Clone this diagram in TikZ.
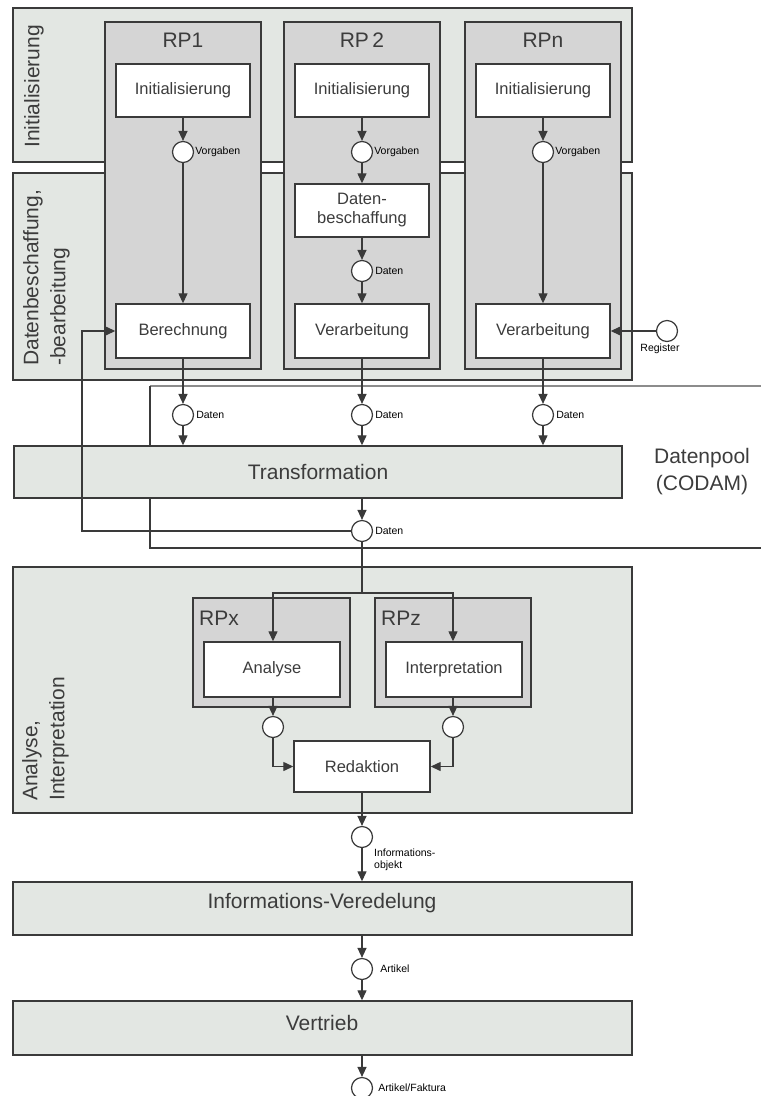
\documentclass[tikz,border=0pt]{standalone}
\usepackage{fontspec}
\setmainfont{Liberation Sans}
\usetikzlibrary{arrows.meta}
\definecolor{bandfill}{HTML}{E3E7E3}
\definecolor{rpfill}{HTML}{D5D5D5}
\definecolor{ln}{HTML}{3A3A3A}
\definecolor{txt}{HTML}{3C3C3C}
\tikzset{
 band/.style={draw=ln, line width=1.4pt, fill=bandfill, inner sep=0pt},
 rpbox/.style={draw=ln, line width=1.4pt, fill=rpfill, inner sep=0pt},
 wbox/.style={draw=ln, line width=1.4pt, fill=white, minimum width=134pt, minimum height=53pt, align=center, font=\fontsize{16.5}{19}\selectfont, text=txt, inner sep=0pt},
 circ/.style={circle, draw=ln, line width=1.2pt, fill=white, minimum size=21pt, inner sep=0pt},
 arr/.style={draw=ln, line width=1.3pt, -{Triangle[length=10pt,width=9pt]}},
 con/.style={draw=ln, line width=1.3pt},
 tiny/.style={font=\fontsize{10.5}{11.5}\selectfont, text=black, inner sep=1pt, anchor=west, align=left},
 big/.style={font=\fontsize{21}{27}\selectfont, text=txt, align=left, inner sep=0pt},
}
\begin{document}
\begin{tikzpicture}[x=1pt,y=-1pt]
\useasboundingbox (0,0) rectangle (761,1096);
% bands
\node[band, minimum width=619pt, minimum height=154pt] (b1) at (322.5,85) {};
\node[band, minimum width=619pt, minimum height=207pt] (b2) at (322.5,276.5) {};
\node[big, rotate=90, anchor=north west] (l1) at (24,148) {Initialisierung};
\node[big, rotate=90, anchor=north west] (l2) at (23,366) {Datenbeschaffung,\\-bearbeitung};
% RP boxes
\node[rpbox, minimum width=156pt, minimum height=347pt] (rp1) at (183,195.5) {};
\node[rpbox, minimum width=156pt, minimum height=347pt] (rp2) at (362,195.5) {};
\node[rpbox, minimum width=156pt, minimum height=347pt] (rpn) at (543,195.5) {};
\node[big] (t1) at (183,40) {RP1};
\node[big] (t2) at (362,40) {RP\,2};
\node[big] (tn) at (543,40) {RPn};
% inner boxes
\node[wbox] (i1) at (183,90.5) {Initialisierung};
\node[wbox] (i2) at (362,90.5) {Initialisierung};
\node[wbox] (in) at (543,90.5) {Initialisierung};
\node[circ] (v1) at (183,152) {};
\node[circ] (v2) at (362,152) {};
\node[circ] (vn) at (543,152) {};
\node[tiny] (vl1) at ([xshift=0pt]v1.east) {Vorgaben};
\node[tiny] (vl2) at ([xshift=0pt]v2.east) {Vorgaben};
\node[tiny] (vln) at ([xshift=0pt]vn.east) {Vorgaben};
\node[wbox] (db) at (362,210.5) {Daten-\\beschaffung};
\node[circ] (d2) at (362,271) {};
\node[tiny] (d2l) at ([xshift=1pt]d2.east) {Daten};
\node[wbox, minimum height=54pt] (be) at (183,331) {Berechnung};
\node[wbox, minimum height=54pt] (va2) at (362,331) {Verarbeitung};
\node[wbox, minimum height=54pt] (van) at (543,331) {Verarbeitung};
\node[circ] (reg) at (667,331) {};
\node[tiny, anchor=north] (regl) at ([xshift=-7pt,yshift=-1pt]reg.south) {Register};
\draw[arr] (i1) -- (v1);
\draw[arr] (v1) -- (be);
\draw[arr] (i2) -- (v2);
\draw[arr] (v2) -- (db);
\draw[arr] (db) -- (d2);
\draw[arr] (d2) -- (va2);
\draw[arr] (in) -- (vn);
\draw[arr] (vn) -- (van);
\draw[arr] (reg) -- (van);
% Datenpool
\coordinate (dpa) at (761,386);
\coordinate (dpb) at (150,386);
\coordinate (dpc) at (150,548);
\coordinate (dpd) at (761,548);
\draw[draw=black!45, line width=2.6pt] (dpa) -- (dpb);
\draw[con, line width=1.2pt] (dpb) -- (dpc) -- (dpd);
\node[circ] (p1) at (183,415) {};
\node[circ] (p2) at (362,415) {};
\node[circ] (pn) at (543,415) {};
\node[tiny] (p1l) at ([xshift=1pt]p1.east) {Daten};
\node[tiny] (p2l) at ([xshift=1pt]p2.east) {Daten};
\node[tiny] (pnl) at ([xshift=1pt]pn.east) {Daten};
\node[band, minimum width=608pt, minimum height=52pt, font=\fontsize{21}{24}\selectfont, text=txt] (tr) at (318,472) {Transformation};
\node[big, align=center] (dp) at (702,472) {Datenpool\\(CODAM)};
\draw[arr] (be) -- (p1);
\draw[arr] (va2) -- (p2);
\draw[arr] (van) -- (pn);
\draw[arr] (p1) -- (p1 |- tr.north);
\draw[arr] (p2) -- (p2 |- tr.north);
\draw[arr] (pn) -- (pn |- tr.north);
\node[circ] (pd) at (362,531) {};
\node[tiny] (pdl) at ([xshift=1pt]pd.east) {Daten};
\draw[arr] (tr.south -| pd) -- (pd);
\coordinate (fb1) at (82,531);
\coordinate (fb2) at (82,331);
\draw[arr] (pd.west) -- (fb1) -- (fb2) -- (be.west);
% Analyse band
\node[band, minimum width=619pt, minimum height=246pt] (b3) at (322.5,690) {};
\node[big, rotate=90, anchor=north west] (l3) at (22,801) {Analyse,\\Interpretation};
\node[rpbox, minimum width=157pt, minimum height=109pt] (rpx) at (271.5,652.5) {};
\node[rpbox, minimum width=156pt, minimum height=109pt] (rpz) at (453,652.5) {};
\node[big, anchor=west] (tx) at (199,618) {RPx};
\node[big, anchor=west] (tz) at (381,618) {RPz};
\node[wbox, minimum width=136pt, minimum height=55pt] (an) at (272,669.5) {Analyse};
\node[wbox, minimum width=136pt, minimum height=55pt] (ip) at (454,669.5) {Interpretation};
\coordinate (sp) at (362,593);
\coordinate (spl) at (273,593);
\coordinate (spr) at (453,593);
\draw[con] (pd) -- (sp);
\draw[arr] (sp) -- (spl) -- (spl |- an.north);
\draw[arr] (sp) -- (spr) -- (spr |- ip.north);
\node[circ] (ca) at (273,727) {};
\node[circ] (ci) at (453,727) {};
\node[wbox, minimum width=136pt, minimum height=51pt] (re) at (362,766.5) {Redaktion};
\draw[arr] (an.south -| ca) -- (ca);
\draw[arr] (ip.south -| ci) -- (ci);
\draw[arr] (ca) |- (re.west);
\draw[arr] (ci) |- (re.east);
% lower chain
\node[circ] (io) at (362,837) {};
\node[tiny] (iol) at (373,860) {Informations-\\objekt};
\node[band, minimum width=619pt, minimum height=53pt] (iv) at (322.5,908.5) {};
\node[font=\fontsize{21}{24}\selectfont, text=txt] (ivt) at (322,903) {Informations-Veredelung};
\node[circ] (ar) at (362,969) {};
\node[tiny] (arl) at ([xshift=6pt]ar.east) {Artikel};
\node[band, minimum width=619pt, minimum height=54pt] (vt) at (322.5,1028) {};
\node[font=\fontsize{21}{24}\selectfont, text=txt] (vtt) at (322,1023) {Vertrieb};
\node[circ] (af) at (362,1088) {};
\node[tiny] (afl) at ([xshift=4pt]af.east) {Artikel/Faktura};
\draw[arr] (re) -- (io);
\draw[arr] (io) -- (io |- iv.north);
\draw[arr] (iv.south -| ar) -- (ar);
\draw[arr] (ar) -- (ar |- vt.north);
\draw[arr] (vt.south -| af) -- (af);
\end{tikzpicture}
\end{document}
